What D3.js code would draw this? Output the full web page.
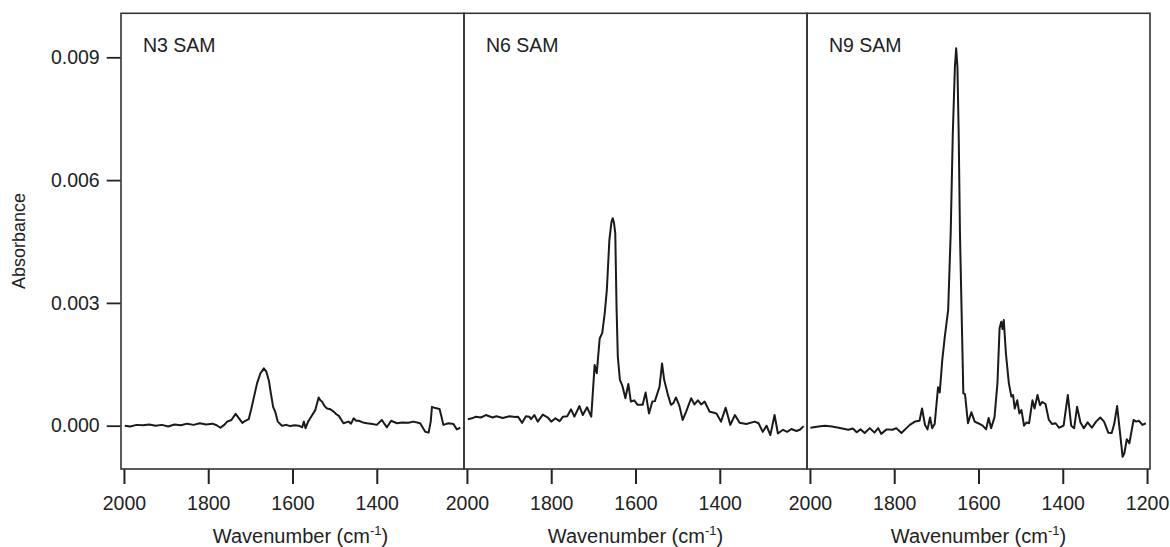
<!DOCTYPE html>
<html>
<head>
<meta charset="utf-8">
<script src="https://cdn.jsdelivr.net/npm/d3@7/dist/d3.min.js"></script>
<style>
  html, body { margin: 0; padding: 0; background: #fff; }
  svg { display: block; }
  text { font-family: "Liberation Sans", Arial, Helvetica, sans-serif; fill: #222; }
</style>
</head>
<body>
<svg id="chart" width="1170" height="547"></svg>
<script>
// ---- Data ----
const panelLabels = ["N3 SAM", "N6 SAM", "N9 SAM"];
const yTicks = [0.000, 0.003, 0.006, 0.009];
const xTicksFirst = [2000, 1800, 1600, 1400];
const xTicksLast = [2000, 1800, 1600, 1400, 1200];

const n3Wavenumber = [1998,1985,1970,1955,1940,1925,1910,1895,1880,1865,1850,1835,1820,1805,1790,1780,1771,1762,1755,1745,1735,1727,1719,1712,1704,1698,1693,1684,1676,1668,1662,1656,1652,1646,1641,1635,1625,1615,1605,1595,1585,1577,1573,1569,1563,1558,1546,1538,1534,1530,1524,1518,1510,1502,1496,1490,1479,1467,1461,1455,1449,1443,1433,1423,1410,1400,1388,1376,1366,1352,1340,1325,1313,1297,1285,1277,1272,1269,1261,1251,1246,1242,1230,1218,1210,1202];
const n3Absorbance = [0.00000,-0.00002,0.00002,0.00001,0.00003,0.00000,0.00002,-0.00002,0.00003,0.00001,0.00005,0.00002,0.00006,0.00003,0.00005,0.00001,-0.00005,0.00002,0.00010,0.00014,0.00029,0.00018,0.00007,0.00012,0.00016,0.00040,0.00063,0.00104,0.00128,0.00140,0.00132,0.00110,0.00083,0.00046,0.00034,0.00010,0.00000,0.00002,-0.00001,0.00001,0.00000,-0.00004,0.00010,-0.00006,0.00010,0.00018,0.00038,0.00069,0.00062,0.00059,0.00048,0.00042,0.00040,0.00034,0.00028,0.00024,0.00006,0.00010,0.00005,0.00018,0.00012,0.00012,0.00008,0.00006,0.00004,0.00002,0.00014,-0.00004,0.00012,0.00006,0.00008,0.00007,0.00010,0.00006,-0.00015,-0.00017,0.00010,0.00046,0.00043,0.00041,0.00020,0.00002,0.00006,0.00004,-0.00009,-0.00005];

const n6Wavenumber = [1998,1988,1979,1967,1955,1939,1930,1915,1899,1885,1879,1869,1860,1852,1848,1840,1832,1820,1808,1800,1790,1780,1772,1762,1753,1745,1733,1725,1715,1705,1697,1692,1685,1679,1673,1668,1662,1657,1654,1651,1648,1645,1642,1637,1631,1624,1617,1611,1603,1595,1583,1576,1568,1560,1554,1543,1537,1532,1524,1516,1510,1504,1496,1488,1480,1468,1460,1452,1444,1436,1424,1416,1408,1397,1386,1375,1364,1353,1337,1317,1308,1298,1289,1280,1270,1262,1250,1240,1230,1218,1210,1201];
const n6Absorbance = [0.00016,0.00018,0.00022,0.00020,0.00026,0.00020,0.00023,0.00019,0.00023,0.00021,0.00022,0.00007,0.00023,0.00022,0.00016,0.00026,0.00010,0.00027,0.00020,0.00010,0.00018,0.00011,0.00022,0.00023,0.00040,0.00022,0.00048,0.00026,0.00045,0.00022,0.00148,0.00128,0.00213,0.00226,0.00275,0.00332,0.00454,0.00498,0.00507,0.00495,0.00470,0.00290,0.00169,0.00112,0.00097,0.00067,0.00102,0.00059,0.00062,0.00051,0.00051,0.00081,0.00030,0.00059,0.00060,0.00095,0.00152,0.00112,0.00079,0.00051,0.00055,0.00069,0.00049,0.00014,0.00034,0.00067,0.00052,0.00062,0.00052,0.00059,0.00034,0.00032,0.00030,0.00010,0.00044,0.00002,0.00026,0.00007,0.00004,0.00010,0.00006,-0.00015,0.00000,-0.00023,0.00026,-0.00019,-0.00010,-0.00015,-0.00008,-0.00013,-0.00010,-0.00001];

const n9Wavenumber = [1999,1980,1964,1948,1932,1909,1898,1889,1880,1870,1858,1847,1838,1831,1818,1804,1795,1783,1771,1763,1751,1740,1734,1727,1721,1715,1710,1704,1696,1692,1686,1680,1672,1666,1661,1656,1653,1650,1647,1644,1639,1636,1632,1625,1617,1609,1601,1590,1582,1576,1570,1562,1555,1550,1546,1543,1540,1535,1528,1522,1518,1514,1508,1503,1498,1492,1486,1480,1472,1467,1460,1454,1449,1441,1433,1425,1417,1409,1398,1388,1380,1373,1366,1358,1350,1341,1331,1321,1311,1302,1292,1284,1278,1271,1265,1258,1254,1248,1242,1232,1226,1219,1211,1203];
const n9Absorbance = [-0.00005,-0.00002,0.00000,-0.00002,-0.00005,-0.00010,-0.00007,-0.00016,-0.00009,-0.00018,-0.00006,-0.00017,-0.00006,-0.00020,-0.00009,-0.00010,-0.00006,-0.00018,-0.00006,0.00002,0.00010,0.00012,0.00042,0.00002,-0.00009,0.00020,-0.00006,0.00004,0.00094,0.00081,0.00160,0.00217,0.00283,0.00470,0.00714,0.00877,0.00922,0.00877,0.00714,0.00470,0.00226,0.00079,0.00077,0.00006,0.00033,0.00010,0.00006,0.00000,-0.00009,0.00019,-0.00006,0.00021,0.00104,0.00238,0.00254,0.00236,0.00258,0.00177,0.00104,0.00071,0.00075,0.00042,0.00062,0.00030,0.00038,0.00000,0.00008,0.00006,0.00062,0.00042,0.00075,0.00050,0.00058,0.00053,0.00014,0.00004,0.00006,-0.00005,0.00000,0.00075,0.00000,-0.00006,0.00046,0.00008,-0.00006,0.00008,-0.00005,0.00010,0.00020,0.00010,-0.00017,-0.00018,0.00004,0.00048,-0.00009,-0.00076,-0.00068,-0.00033,-0.00043,0.00014,0.00010,0.00012,0.00002,0.00006];

const series = [
  { label: panelLabels[0], wn: n3Wavenumber, ab: n3Absorbance, ticks: xTicksFirst },
  { label: panelLabels[1], wn: n6Wavenumber, ab: n6Absorbance, ticks: xTicksFirst },
  { label: panelLabels[2], wn: n9Wavenumber, ab: n9Absorbance, ticks: xTicksLast }
];

// ---- Layout ----
const svg = d3.select("#chart");
const plotTop = 13.3, plotBottom = 469;
const left0 = 121, panelW = 343;
const ink = "#222";

const y = d3.scaleLinear().domain([-0.001058, 0.010075]).range([plotBottom, plotTop]);

// Y axis ticks & labels
const yAxis = d3.axisLeft(y).tickValues(yTicks).tickFormat(d3.format(".3f")).tickSize(14).tickPadding(7);
const gy = svg.append("g").attr("transform", `translate(${left0 - 0.3},0)`).call(yAxis);
gy.select(".domain").remove();
gy.selectAll(".tick line").attr("stroke", ink).attr("stroke-width", 1.8);
gy.selectAll(".tick text").attr("font-size", 19.5).attr("fill", ink)
  .attr("font-family", '"Liberation Sans", Arial, sans-serif');

svg.append("text")
  .attr("transform", `translate(25,241) rotate(-90)`)
  .attr("text-anchor", "middle")
  .attr("font-size", 18)
  .text("Absorbance");

series.forEach((s, i) => {
  const L = left0 + i * panelW;
  const x = d3.scaleLinear().domain([2007, 1193]).range([L, L + panelW]);

  // x axis ticks
  const xAxis = d3.axisBottom(x).tickValues(s.ticks).tickFormat(d3.format("d")).tickSize(15).tickPadding(12);
  const gx = svg.append("g").attr("transform", `translate(0,${plotBottom})`).call(xAxis);
  gx.select(".domain").remove();
  gx.selectAll(".tick line").attr("stroke", ink).attr("stroke-width", 2);
  gx.selectAll(".tick text").attr("font-size", 19.5).attr("fill", ink)
    .attr("font-family", '"Liberation Sans", Arial, sans-serif');

  // Spectrum
  const line = d3.line()
    .x((d, k) => x(s.wn[k]))
    .y(d => y(d));
  svg.append("path")
    .datum(s.ab)
    .attr("d", line)
    .attr("fill", "none")
    .attr("stroke", "#1a1a1a")
    .attr("stroke-width", 2)
    .attr("stroke-linejoin", "round");

  // Panel frame
  svg.append("rect")
    .attr("x", L).attr("y", plotTop)
    .attr("width", panelW).attr("height", plotBottom - plotTop)
    .attr("fill", "none").attr("stroke", "#333").attr("stroke-width", 1.6);

  // Panel label
  svg.append("text")
    .attr("x", L + 22).attr("y", 51.5)
    .attr("font-size", 19.5)
    .text(s.label);

  // X axis title with superscript
  const t = svg.append("text")
    .attr("x", L + panelW / 2 + (i === 0 ? 8 : 0)).attr("y", 543)
    .attr("text-anchor", "middle")
    .attr("font-size", 20);
  t.append("tspan").text("Wavenumber (cm");
  t.append("tspan").attr("font-size", 13).attr("dy", -8).text("-1");
  t.append("tspan").attr("dy", 8).text(")");
});
</script>
</body>
</html>
